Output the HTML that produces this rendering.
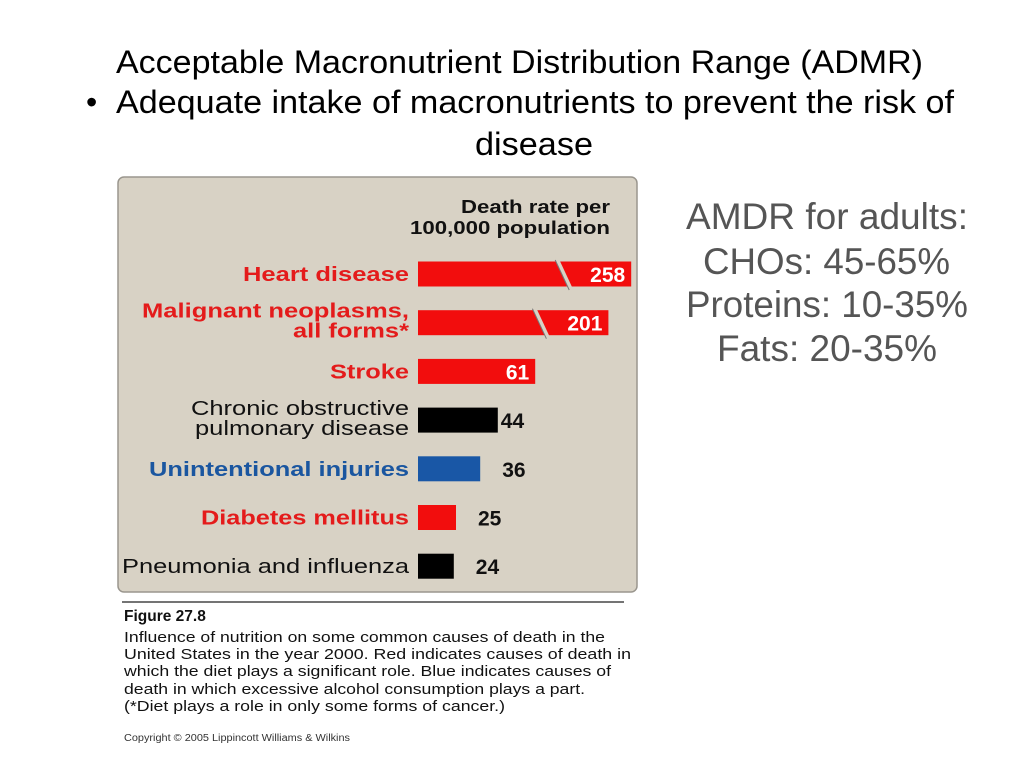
<!DOCTYPE html>
<html><head><meta charset="utf-8"><style>
html,body{margin:0;padding:0;background:#fff;width:1024px;height:768px;overflow:hidden}
svg{display:block}
text{font-family:"Liberation Sans",Arial,sans-serif}
</style></head><body>
<svg id="s" width="1024" height="768" viewBox="0 0 1024 768">
<g font-size="32" fill="#000">
<text x="116" y="73" textLength="807" lengthAdjust="spacingAndGlyphs">Acceptable Macronutrient Distribution Range (ADMR)</text>
<text x="86" y="113">•</text>
<text x="116" y="113" textLength="838" lengthAdjust="spacingAndGlyphs">Adequate intake of macronutrients to prevent the risk of</text>
<text x="475" y="155" textLength="118" lengthAdjust="spacingAndGlyphs">disease</text>
</g>
<g font-size="37" fill="#555">
<text x="686" y="229" textLength="282" lengthAdjust="spacingAndGlyphs">AMDR for adults:</text>
<text x="703" y="274" textLength="247" lengthAdjust="spacingAndGlyphs">CHOs: 45-65%</text>
<text x="686" y="317" textLength="282" lengthAdjust="spacingAndGlyphs">Proteins: 10-35%</text>
<text x="717" y="361" textLength="220" lengthAdjust="spacingAndGlyphs">Fats: 20-35%</text>
</g>
<rect x="118" y="177" width="519" height="415" rx="6" fill="#d8d2c5" stroke="#9a968e" stroke-width="1.5"/>
<g font-size="18" font-weight="bold" fill="#111" text-anchor="end">
<text x="610" y="213" textLength="149" lengthAdjust="spacingAndGlyphs">Death rate per</text>
<text x="610" y="234" textLength="200" lengthAdjust="spacingAndGlyphs">100,000 population</text>
</g>
<g id="bars"></g>
<line x1="122" y1="602" x2="624" y2="602" stroke="#222" stroke-width="1.2"/>
<g font-size="15" fill="#111">
<text x="124" y="621" font-weight="bold" font-size="15.5">Figure 27.8</text>
<text x="124" y="642" textLength="481" lengthAdjust="spacingAndGlyphs">Influence of nutrition on some common causes of death in the</text>
<text x="124" y="659" textLength="507" lengthAdjust="spacingAndGlyphs">United States in the year 2000.  Red indicates causes of death in</text>
<text x="124" y="676" textLength="487" lengthAdjust="spacingAndGlyphs">which the diet plays a significant role. Blue indicates causes of</text>
<text x="124" y="694" textLength="461" lengthAdjust="spacingAndGlyphs">death in which excessive alcohol consumption plays a part.</text>
<text x="124" y="711" textLength="381" lengthAdjust="spacingAndGlyphs">(*Diet plays a role in only some forms of cancer.)</text>
<text x="124" y="741" font-family="Liberation Serif, serif" font-size="10" fill="#333" textLength="226" lengthAdjust="spacingAndGlyphs">Copyright © 2005 Lippincott Williams &amp; Wilkins</text>
</g>
</svg>
<script>
const categories=["Heart disease","Malignant neoplasms, all forms*","Stroke","Chronic obstructive pulmonary disease","Unintentional injuries","Diabetes mellitus","Pneumonia and influenza"];
const values=[258,201,61,44,36,25,24];
const colorKeys=["red","red","red","black","blue","red","black"];
const labelLines=[["Heart disease"],["Malignant neoplasms,","all forms*"],["Stroke"],["Chronic obstructive","pulmonary disease"],["Unintentional injuries"],["Diabetes mellitus"],["Pneumonia and influenza"]];
const labelWidths=[[166],[267,116],[79],[218,214],[260],[208],[287]];

const NS="http://www.w3.org/2000/svg";
const g=document.getElementById('bars');
const X0=418, BREAK=100;
function xw(v){return v>BREAK? 150+(v-BREAK)*0.4 : 2.2*v-17;}
function yc(i){return 274+i*48.7;}
const fill={red:"#f20d0d",black:"#000",blue:"#1957a6"};
function mk(tag,attrs){const e=document.createElementNS(NS,tag);for(const k in attrs)e.setAttribute(k,attrs[k]);return e;}
values.forEach((v,i)=>{
  const c=yc(i), w=xw(v), col=colorKeys[i];
  const r=mk('rect',{x:X0,y:c-12.5,width:w,height:25,fill:fill[col]});
  
  
  g.appendChild(r);
  if(v>BREAK){
    const bx=X0+w-70;
    const br=mk('line',{x1:bx-4,y1:c-14,x2:bx+10,y2:c+16,stroke:"#d8d2c5","stroke-width":4});
    
    
    g.appendChild(br);
    const bl=mk('line',{x1:bx-6,y1:c-14,x2:bx+8,y2:c+16,stroke:"#777","stroke-width":1});
    
    
    g.appendChild(bl);
  }
  const inside=col==="red"&&v>=50;
  const t=mk('text',{y:c+8,"font-size":21,"font-weight":"bold"});
  if(inside){t.setAttribute('x',X0+w-6);t.setAttribute('text-anchor','end');t.setAttribute('fill','#fff');}
  else{t.setAttribute('x',X0+w+(w<70?22:3));t.setAttribute('fill','#111');}
  t.textContent=v;
  
  
  g.appendChild(t);
  const lines=labelLines[i], bold=col!=="black";
  lines.forEach((ln,j)=>{
    const off=lines.length===1?7:(j===0?-5:15);
    const lt=mk('text',{x:409,y:c+off,"text-anchor":"end","font-size":20,"font-weight":bold?"bold":"normal",fill:col==="red"?"#e41b1b":col==="blue"?"#1a56a0":"#111",textLength:labelWidths[i][j],lengthAdjust:"spacingAndGlyphs"});
    lt.textContent=ln;
    
    
    g.appendChild(lt);
  });
});
</script>
</body></html>
